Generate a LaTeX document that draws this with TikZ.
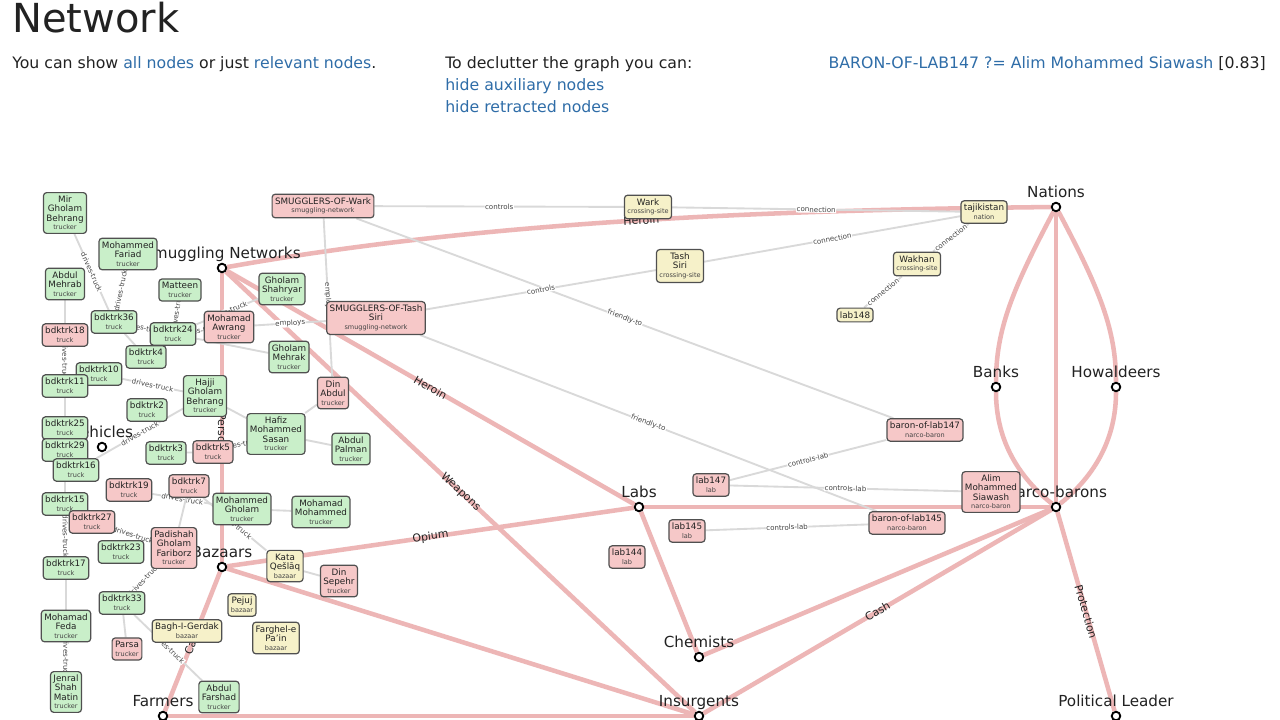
\documentclass[tikz,border=0pt]{standalone}
\usepackage{fontspec}
\setmainfont{DejaVu Sans}
\usetikzlibrary{backgrounds}
\pgfdeclarelayer{edges}
\pgfsetlayers{background,edges,main}
\definecolor{okfill}{HTML}{C9EFC9}
\definecolor{hitfill}{HTML}{F6C8C8}
\definecolor{auxfill}{HTML}{F6F1C9}
\definecolor{boxline}{HTML}{505050}
\definecolor{flowpink}{HTML}{EDB6B6}
\definecolor{linkgray}{HTML}{D9D9D9}
\definecolor{linkblue}{HTML}{2F6DA8}
\definecolor{ink}{HTML}{222222}
\definecolor{typegray}{HTML}{444444}
\newcommand{\ntype}[1]{\\[-0.4pt]{\fontsize{4.9}{5.4}\selectfont\color{typegray}#1}}
\begin{document}
\begin{tikzpicture}[x=0.75pt,y=-0.75pt,
  hub/.style={circle,draw=black,fill=white,line width=1.4pt,inner sep=0pt,minimum size=6.4pt,label distance=2.4pt},
  hubtxt/.style={anchor=base,yshift=3pt,font=\fontsize{11.4}{13}\selectfont,text=ink},
  ent/.style={draw=boxline,line width=0.9pt,rounded corners=2.4pt,align=center,inner xsep=2.2pt,inner ysep=2.6pt,font=\fontsize{6.6}{6.9}\selectfont,text=ink},
  okbox/.style={ent,fill=okfill},
  hitbox/.style={ent,fill=hitfill},
  auxbox/.style={ent,fill=auxfill},
  flow/.style={draw=flowpink,line width=3.4pt},
  flowtxt/.style={sloped,font=\fontsize{8.2}{9}\selectfont,text=ink,inner sep=0.5pt},
  link/.style={draw=linkgray,line width=1.4pt},
  linktxt/.style={sloped,fill=white,font=\fontsize{5.3}{6}\selectfont,text=typegray,inner sep=0.4pt},
  hdr/.style={anchor=base west,inner sep=0pt,font=\fontsize{11.8}{14}\selectfont,text=ink}]
\begin{pgfonlayer}{background}
\fill[white] (0,0) rectangle (1280,720);
\end{pgfonlayer}
\useasboundingbox (0,0) rectangle (1280,720);

\node[anchor=base west,inner sep=0pt,font=\fontsize{30}{35}\selectfont,text=ink] (title) at (12,33) {Network};
\node[hdr] (show) at (12,69) {You can show \textcolor{linkblue}{all nodes} or just \textcolor{linkblue}{relevant nodes}.};
\node[hdr] (declutter) at (445,69) {To declutter the graph you can:};
\node[hdr,text=linkblue] (hideaux) at (445,91) {hide auxiliary nodes};
\node[hdr,text=linkblue] (hideret) at (445,113) {hide retracted nodes};
\node[hdr,anchor=base east] (guess) at (1266,69) {\textcolor{linkblue}{BARON-OF-LAB147 ?= Alim Mohammed Siawash} [0.83]};

\node[hub,label={[hubtxt]above:Nations}] (nat) at (1056,207) {};
\node[hub,label={[hubtxt]above:Smuggling Networks}] (smg) at (222,268) {};
\node[hub,label={[hubtxt]above:Banks}] (banks) at (996,387) {};
\node[hub,label={[hubtxt]above:Howaldeers}] (howal) at (1116,387) {};
\node[hub,label={[hubtxt]above:Vehicles}] (veh) at (102,447) {};
\node[hub,label={[hubtxt]above:Labs}] (labs) at (639,507) {};
\node[hub,label={[hubtxt]above:Narco-barons}] (narc) at (1056,507) {};
\node[hub,label={[hubtxt]above:Bazaars}] (baz) at (222,567) {};
\node[hub,label={[hubtxt]above:Chemists}] (chem) at (699,657) {};
\node[hub,label={[hubtxt]above:Farmers}] (farm) at (163,716) {};
\node[hub,label={[hubtxt]above:Insurgents}] (ins) at (699,716) {};
\node[hub,label={[hubtxt]above:Political Leader}] (pol) at (1116,716) {};

\node[okbox] (mir) at (65,213) {Mir\\Gholam\\Behrang\ntype{trucker}};
\node[okbox] (far) at (128,254) {Mohammed\\Fariad\ntype{trucker}};
\node[okbox] (meh) at (65,284) {Abdul\\Mehrab\ntype{trucker}};
\node[okbox] (matt) at (180,290) {Matteen\ntype{trucker}};
\node[okbox] (b36) at (114,322) {bdktrk36\ntype{truck}};
\node[okbox] (b24) at (173,334) {bdktrk24\ntype{truck}};
\node[okbox] (b4) at (146,357) {bdktrk4\ntype{truck}};
\node[okbox] (shah) at (282,289) {Gholam\\Shahryar\ntype{trucker}};
\node[okbox] (mehr) at (289,357) {Gholam\\Mehrak\ntype{trucker}};
\node[okbox] (b10) at (99,374) {bdktrk10\ntype{truck}};
\node[okbox] (b11) at (65,386) {bdktrk11\ntype{truck}};
\node[okbox] (b2) at (147,410) {bdktrk2\ntype{truck}};
\node[okbox] (haj) at (205,396) {Hajji\\Gholam\\Behrang\ntype{trucker}};
\node[okbox] (b25) at (65,428) {bdktrk25\ntype{truck}};
\node[okbox] (b29) at (65,450) {bdktrk29\ntype{truck}};
\node[okbox] (b16) at (76,470) {bdktrk16\ntype{truck}};
\node[okbox] (b3) at (166,453) {bdktrk3\ntype{truck}};
\node[okbox] (hafiz) at (276,434) {Hafiz\\Mohammed\\Sasan\ntype{trucker}};
\node[okbox] (palm) at (351,449) {Abdul\\Palman\ntype{trucker}};
\node[okbox] (b15) at (65,504) {bdktrk15\ntype{truck}};
\node[okbox] (mgh) at (242,509) {Mohammed\\Gholam\ntype{trucker}};
\node[okbox] (mmh) at (321,512) {Mohamad\\Mohammed\ntype{trucker}};
\node[okbox] (b23) at (121,552) {bdktrk23\ntype{truck}};
\node[okbox] (b17) at (66,568) {bdktrk17\ntype{truck}};
\node[okbox] (b33) at (122,603) {bdktrk33\ntype{truck}};
\node[okbox] (feda) at (66,626) {Mohamad\\Feda\ntype{trucker}};
\node[okbox] (jen) at (66,692) {Jenral\\Shah\\Matin\ntype{trucker}};
\node[okbox] (afar) at (219,697) {Abdul\\Farshad\ntype{trucker}};

\node[hitbox] (smw) at (323,206) {SMUGGLERS-OF-Wark\ntype{smuggling-network}};
\node[hitbox] (smt) at (376,318) {SMUGGLERS-OF-Tash\\Siri\ntype{smuggling-network}};
\node[hitbox] (awr) at (229,327) {Mohamad\\Awrang\ntype{trucker}};
\node[hitbox] (b18) at (65,335) {bdktrk18\ntype{truck}};
\node[hitbox] (dinab) at (333,393) {Din\\Abdul\ntype{trucker}};
\node[hitbox] (b5) at (213,452) {bdktrk5\ntype{truck}};
\node[hitbox] (b19) at (129,490) {bdktrk19\ntype{truck}};
\node[hitbox] (b7) at (189,486) {bdktrk7\ntype{truck}};
\node[hitbox] (b27) at (92,522) {bdktrk27\ntype{truck}};
\node[hitbox] (pad) at (174,548) {Padishah\\Gholam\\Fariborz\ntype{trucker}};
\node[hitbox] (dsep) at (339,581) {Din\\Sepehr\ntype{trucker}};
\node[hitbox] (parsa) at (127,649) {Parsa\ntype{trucker}};
\node[hitbox] (l147) at (711,485) {lab147\ntype{lab}};
\node[hitbox] (l145) at (687,531) {lab145\ntype{lab}};
\node[hitbox] (l144) at (627,557) {lab144\ntype{lab}};
\node[hitbox] (b147) at (925,430) {baron-of-lab147\ntype{narco-baron}};
\node[hitbox] (b145) at (907,523) {baron-of-lab145\ntype{narco-baron}};
\node[hitbox] (alim) at (991,492) {Alim\\Mohammed\\Siawash\ntype{narco-baron}};

\node[auxbox] (wark) at (648,207) {Wark\ntype{crossing-site}};
\node[auxbox] (tash) at (680,266) {Tash\\Siri\ntype{crossing-site}};
\node[auxbox] (taj) at (984,212) {tajikistan\ntype{nation}};
\node[auxbox] (wakh) at (917,264) {Wakhan\ntype{crossing-site}};
\node[auxbox] (l148) at (855,315) {lab148};
\node[auxbox] (kata) at (285,566) {Kata\\Qešlāq\ntype{bazaar}};
\node[auxbox] (pej) at (242,605) {Pejuj\ntype{bazaar}};
\node[auxbox] (farg) at (276,638) {Farghel-e\\Pa'in\ntype{bazaar}};
\node[auxbox] (bagh) at (187,631) {Bagh-I-Gerdak\ntype{bazaar}};

\begin{pgfonlayer}{edges}
\draw[flow] (smg) .. controls (480,222) and (760,210) .. node[flowtxt,pos=0.52]{Heroin} (nat);
\draw[flow] (smg) -- node[flowtxt]{Heroin} (labs);
\draw[flow] (smg) -- node[flowtxt]{Weapons} (ins);
\draw[flow] (smg) -- node[flowtxt,pos=0.55]{Person} (baz);
\draw[flow] (baz) -- node[flowtxt]{Opium} (labs);
\draw[flow] (baz) -- (ins);
\draw[flow] (baz) -- node[flowtxt]{Cash} (farm);
\draw[flow] (farm) -- (ins);
\draw[flow] (labs) -- (narc);
\draw[flow] (labs) -- (chem);
\draw[flow] (chem) -- (narc);
\draw[flow] (ins) -- node[flowtxt]{Cash} (narc);
\draw[flow] (nat) -- (narc);
\draw[flow] (nat) .. controls (1012,290) and (996,330) .. (banks) .. controls (996,430) and (1010,470) .. (narc);
\draw[flow] (nat) .. controls (1100,290) and (1116,330) .. (howal) .. controls (1116,430) and (1102,470) .. (narc);
\draw[flow] (narc) -- node[flowtxt]{Protection} (pol);

\draw[link] (smw) -- node[linktxt]{controls} (wark);
\draw[link] (wark) -- node[linktxt]{connection} (taj);
\draw[link] (smw) -- node[linktxt]{friendly-to} (b147);
\draw[link] (smt) -- node[linktxt]{friendly-to} (b145);
\draw[link] (smt) -- node[linktxt]{controls} (tash);
\draw[link] (taj) -- node[linktxt]{connection} (tash);
\draw[link] (taj) -- node[linktxt]{connection} (wakh);
\draw[link] (wakh) -- node[linktxt]{connection} (l148);
\draw[link] (smw) -- node[linktxt]{employs} (dinab);
\draw[link] (awr) -- node[linktxt]{employs} (smt);
\draw[link] (l147) -- node[linktxt]{controls-lab} (b147);
\draw[link] (l147) -- node[linktxt]{controls-lab} (alim);
\draw[link] (l145) -- node[linktxt]{controls-lab} (b145);
\draw[link] (awr) -- node[linktxt]{drives-truck} (b24);
\draw[link] (shah) -- node[linktxt]{drives-truck} (b24);
\draw[link] (matt) -- node[linktxt]{drives-truck} (b24);
\draw[link] (far) -- node[linktxt]{drives-truck} (b36);
\draw[link] (mir) -- node[linktxt]{drives-truck} (b36);
\draw[link] (b36) -- node[linktxt]{drives-truck} (b24);
\draw[link] (b36) -- (b4);
\draw[link] (b24) -- (mehr);
\draw[link] (meh) -- (b18);
\draw[link] (b18) -- node[linktxt]{drives-truck} (b11);
\draw[link] (b11) -- (b25);
\draw[link] (b29) -- (b15);
\draw[link] (b15) -- node[linktxt]{drives-truck} (b17);
\draw[link] (b17) -- (feda);
\draw[link] (feda) -- node[linktxt]{drives-truck} (jen);
\draw[link] (b10) -- node[linktxt]{drives-truck} (haj);
\draw[link] (b16) -- node[linktxt]{drives-truck} (haj);
\draw[link] (haj) -- (hafiz);
\draw[link] (b5) -- node[linktxt]{drives-truck} (hafiz);
\draw[link] (b3) -- (b5);
\draw[link] (hafiz) -- (palm);
\draw[link] (dinab) -- (hafiz);
\draw[link] (b19) -- node[linktxt]{drives-truck} (mgh);
\draw[link] (b7) -- (pad);
\draw[link] (b27) -- node[linktxt]{drives-truck} (pad);
\draw[link] (mgh) -- (mmh);
\draw[link] (b7) -- node[linktxt]{drives-truck} (kata);
\draw[link] (pad) -- node[linktxt]{drives-truck} (b33);
\draw[link] (b33) -- (parsa);
\draw[link] (b33) -- node[linktxt]{drives-truck} (afar);
\draw[link] (kata) -- (dsep);
\end{pgfonlayer}
\end{tikzpicture}
\end{document}
